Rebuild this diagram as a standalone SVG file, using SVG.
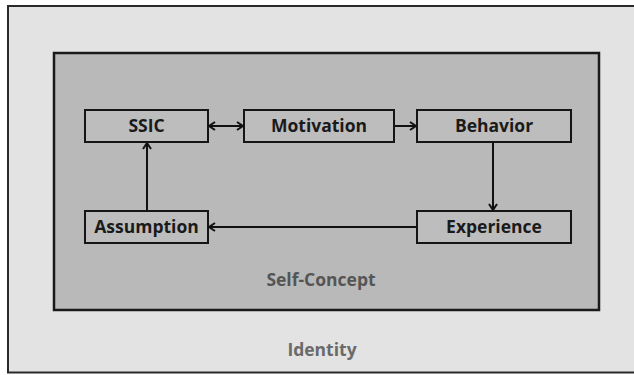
<svg xmlns="http://www.w3.org/2000/svg" width="634" height="375" viewBox="0 0 634 375">
  <defs>
    <marker id="arr" viewBox="0 0 10 10" refX="9" refY="5" markerWidth="10" markerHeight="10" markerUnits="userSpaceOnUse" orient="auto-start-reverse">
      <path d="M3,1 L9,5 L3,9" fill="none" stroke="#111" stroke-width="2"/>
    </marker>
  </defs>
  <style>
    .node rect { fill: #bdbdbd; stroke: #151515; stroke-width: 2; }
    .node text { font-family: "Open Sans", "Liberation Sans", sans-serif; font-weight: bold; font-size: 17.5px; fill: #1a1a1a; text-anchor: middle; }
    .conn { stroke: #111; stroke-width: 2; fill: none; marker-end: url(#arr); }
    .label { font-family: "Open Sans", "Liberation Sans", sans-serif; font-weight: bold; font-size: 17.5px; text-anchor: middle; }
  </style>
  <rect width="634" height="375" fill="#ffffff"/>
  <g id="identity">
    <rect x="8" y="6" width="634" height="366.5" fill="#e3e3e3" stroke="#2a2a2a" stroke-width="2"/>
    <text class="label" x="322" y="356" fill="#6a6a6a">Identity</text>
  </g>
  <g id="self-concept">
    <rect x="54" y="53" width="545" height="257" fill="#b9b9b9" stroke="#1a1a1a" stroke-width="2.5"/>
    <text class="label" x="321" y="286" fill="#555555">Self-Concept</text>
  </g>
  <g id="ssic" class="node">
    <rect x="85" y="110" width="123" height="32"/>
    <text x="146.5" y="132">SSIC</text>
  </g>
  <g id="motivation" class="node">
    <rect x="244" y="110" width="150" height="32"/>
    <text x="319" y="132">Motivation</text>
  </g>
  <g id="behavior" class="node">
    <rect x="417" y="110" width="154" height="32"/>
    <text x="494" y="132">Behavior</text>
  </g>
  <g id="experience" class="node">
    <rect x="417" y="211" width="154" height="32"/>
    <text x="494" y="233">Experience</text>
  </g>
  <g id="assumption" class="node">
    <rect x="85" y="211" width="123" height="32"/>
    <text x="146.5" y="233">Assumption</text>
  </g>
  <g id="connectors">
    <line class="conn" x1="209" y1="126" x2="243" y2="126" style="marker-start: url(#arr)"/>
    <line class="conn" x1="395" y1="126" x2="416" y2="126"/>
    <line class="conn" x1="493" y1="143" x2="493" y2="210"/>
    <line class="conn" x1="416" y1="227" x2="209" y2="227"/>
    <line class="conn" x1="147" y1="210" x2="147" y2="143"/>
  </g>
</svg>
